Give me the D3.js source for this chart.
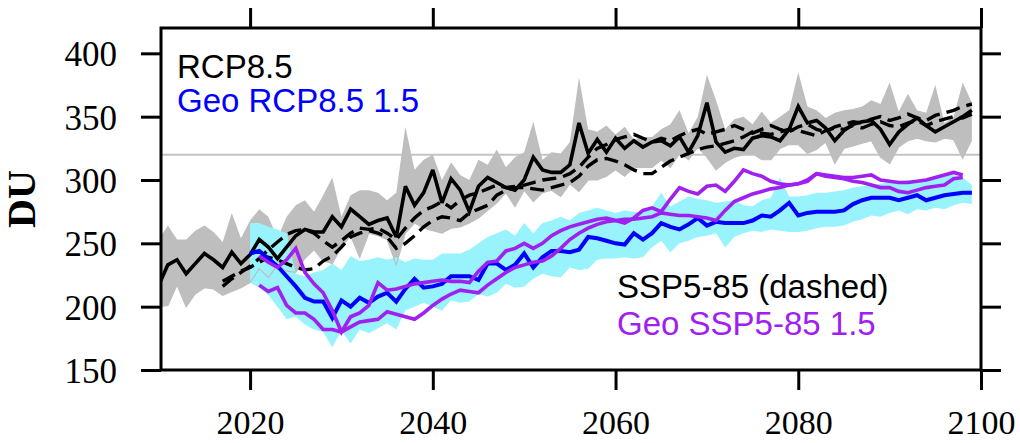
<!DOCTYPE html>
<html><head><meta charset="utf-8">
<script src="https://cdn.jsdelivr.net/npm/d3@7"></script>
<style>body{margin:0;background:#fff}svg{display:block;background:#fff}</style>
</head><body><svg id="c" width="1020" height="443"></svg>
<script>
// ---------------- data ----------------
const rcpStart = 2010;
const rcp85 = [217,233,237,226,234,242,237,231,243,234,
  241,253,247,238,247,256,261,259,259,271,
  263,277,271,265,268,270,255,295,280,290,
  308,282,301,292,275,295,302,298,294,292,
  300,318,308,306,306,312,345,321,332,322,
  333,325,331,326,330,331,327,334,322,335,
  361,330,322,325,324,333,335,334,331,340,
  358,345,347,341,331,339,344,346,347,340,
  328,338,344,349,343,338,342,346,350,355];
const rcpUpper = [253,264,253,253,260,264,259,251,274,254,
  268,277,271,254,271,280,284,275,288,302,
  271,288,292,292,290,284,290,342,308,316,
  320,300,314,304,300,316,312,324,310,318,
  322,346,316,322,321,330,381,340,338,343,
  336,342,332,334,334,340,344,355,337,350,
  383,363,340,348,350,344,354,345,350,355,
  385,358,355,349,353,355,356,358,363,360,
  377,354,368,355,353,375,345,350,377,361];
const rcpLower = [200,201,217,200,210,215,214,209,212,215,
  219,230,223,233,228,227,238,245,236,234,
  247,256,239,258,256,253,233,258,266,262,
  260,258,262,263,266,270,276,282,290,279,
  292,283,290,292,287,297,291,300,300,303,
  308,303,310,310,310,316,310,321,316,326,
  318,308,314,318,320,321,316,316,325,328,
  328,321,324,330,313,325,327,329,331,318,
  313,326,331,333,331,330,333,332,317,332];

const sspStart = 2017;
const ssp585a = [216,222,227,232,238,245,251,257,260,261,
  258,252,247,252,258,262,261,262,258,253,
  262,270,276,279,283,278,284,288,290,293,
  296,294,295,296,298,300,301,302,305,310,
  318,325,328,332,334,336,333,330,333,331,
  335,338,340,336,338,340,343,340,337,340,
  343,340,338,342,344,340,338,342,344,346,
  345,348,350,347,349,352,349,347,351,353,
  355,358,360];
const ssp585b = [220,224,228,231,235,239,237,234,231,229,
  230,236,240,247,255,258,260,258,255,246,
  250,256,263,268,271,270,268,274,277,280,
  288,292,294,294,293,292,294,296,298,303,
  311,316,317,315,312,308,305,305,310,315,
  318,321,324,326,327,329,331,334,338,337,
  336,338,340,339,337,335,339,341,340,343,
  341,344,346,343,342,345,347,343,346,348,
  350,349,352];

const geoStart = 2020;
const geoRcp = [242,244,238,232,224,216,207,204,204,191,
  205,200,207,203,208,211,204,214,222,215,
  216,218,224,224,224,221,234,234,229,233,
  242,231,239,244,244,243,245,255,254,252,
  250,249,258,253,258,266,263,261,265,270,
  264,267,266,266,266,268,272,271,276,282,
  272,274,275,275,275,276,281,284,286,286,
  286,284,286,288,284,286,288,289,290,290];
const geoUpper = [266,266,263,261,258,226,224,227,229,234,
  229,240,236,237,239,237,239,235,238,237,
  237,242,242,242,245,250,255,258,261,256,
  266,258,266,268,271,268,274,276,278,276,
  274,276,275,274,279,290,279,283,287,285,
  284,282,283,284,280,279,284,286,302,287,
  287,288,290,290,291,292,294,295,296,297,
  298,299,300,300,300,302,303,304,302,296];
const geoLower = [219,215,209,200,190,192,186,182,180,168,
  181,171,182,179,183,187,182,197,200,203,
  200,197,205,203,204,210,208,211,218,215,
  216,222,226,224,223,231,229,230,237,238,
  238,239,238,239,247,252,243,250,252,255,
  256,258,247,255,258,260,259,261,260,259,
  259,260,262,263,263,264,267,269,272,271,
  274,276,273,277,276,278,277,280,282,281];

const geoSspStart = 2021;
const geoSspA = [240,235,231,237,246,227,218,211,197,180,
  192,195,201,219,213,214,216,218,219,220,
  221,220,220,219,228,235,236,244,246,250,
  246,250,256,260,263,265,267,269,270,268,
  266,270,276,278,275,285,294,291,289,295,
  296,291,299,308,305,303,299,297,296,297,
  299,305,304,303,302,302,303,304,300,299,
  298,298,299,300,302,304,306,304];
const geoSspB = [217,212,215,201,195,195,190,182,182,180,
  184,188,189,190,196,194,192,190,195,201,
  206,210,213,212,211,217,222,227,231,233,
  235,236,240,246,253,258,262,265,267,268,
  269,269,270,271,274,273,272,272,271,270,
  268,276,283,286,289,291,293,294,296,297,
  300,305,303,302,301,299,298,296,294,294,
  291,290,292,294,295,296,301,302];

const refLevel = 320;
const xTicks = [2020, 2040, 2060, 2080, 2100];
const yTicks = [150, 200, 250, 300, 350, 400];

// ---------------- chart ----------------
const svg = d3.select('#c');
const L = 161, R = 981, T = 28, B = 370;
const x = d3.scaleLinear().domain([2010.25, 2100]).range([L, R]);
const y = d3.scaleLinear().domain([150, 420]).range([B, T]);

svg.append('defs').append('clipPath').attr('id', 'clip')
  .append('rect').attr('x', L).attr('y', T).attr('width', R - L).attr('height', B - T);
const plot = svg.append('g').attr('clip-path', 'url(#clip)');

const series = (start, vals) => vals.map((v, i) => ({year: start + i, v}));
const band = (start, lo, hi) => lo.map((l, i) => ({year: start + i, lo: l, hi: hi[i]}));
const area = d3.area().x(d => x(d.year)).y0(d => y(d.lo)).y1(d => y(d.hi));
const line = d3.line().x(d => x(d.year)).y(d => y(d.v));

// reference line
plot.append('line').attr('x1', L).attr('x2', R).attr('y1', y(refLevel)).attr('y2', y(refLevel))
  .attr('stroke', '#c4c4c4').attr('stroke-width', 2);

// bands
plot.append('path').datum(band(rcpStart, rcpLower, rcpUpper)).attr('d', area).attr('fill', '#bebebe');
plot.append('path').datum(band(geoStart, geoLower, geoUpper)).attr('d', area).attr('fill', '#98f3fc');
plot.append('path').datum(series(rcpStart, rcpLower)).attr('d', line)
  .attr('fill', 'none').attr('stroke', '#bebebe').attr('stroke-width', 1.2);

// lines
const drawLine = (start, vals, color, w, dash) => {
  const p = plot.append('path').datum(series(start, vals)).attr('d', line)
    .attr('fill', 'none').attr('stroke', color).attr('stroke-width', w)
    .attr('stroke-linejoin', 'miter').attr('stroke-miterlimit', 3);
  if (dash) p.attr('stroke-dasharray', dash);
};
drawLine(rcpStart, rcp85, '#000', 3.6);
drawLine(sspStart, ssp585a, '#000', 3.4, '14,7');
drawLine(sspStart, ssp585b, '#000', 3.4, '14,7');
drawLine(geoStart, geoRcp, '#0000ff', 4);
drawLine(geoSspStart, geoSspA, '#a020f0', 3.6);
drawLine(geoSspStart, geoSspB, '#a020f0', 3.6);

// axes
const styleAxis = g => {
  g.select('.domain').remove();
  g.selectAll('.tick line').attr('stroke', '#000').attr('stroke-width', 3);
  g.selectAll('.tick text').attr('fill', '#000')
    .style('font-family', '"Liberation Serif", "Times New Roman", serif').style('font-size', '34px');
};
svg.append('g').attr('transform', `translate(0,${B})`)
  .call(d3.axisBottom(x).tickValues(xTicks).tickSize(20).tickSizeOuter(0).tickPadding(20).tickFormat(d3.format('d')))
  .call(styleAxis);
svg.append('g').attr('transform', `translate(0,${T})`)
  .call(d3.axisTop(x).tickValues(xTicks).tickSize(20).tickSizeOuter(0).tickFormat(''))
  .call(styleAxis);
svg.append('g').attr('transform', `translate(${L},0)`)
  .call(d3.axisLeft(y).tickValues(yTicks).tickSize(20).tickSizeOuter(0).tickPadding(24).tickFormat(d3.format('d')))
  .call(styleAxis)
  .call(g => g.selectAll('.tick text').style('font-size', '35px').attr('dy', '0.36em'));
svg.append('g').attr('transform', `translate(${R},0)`)
  .call(d3.axisRight(y).tickValues(yTicks).tickSize(20).tickSizeOuter(0).tickFormat(''))
  .call(styleAxis);

// frame
svg.append('rect').attr('x', L).attr('y', T).attr('width', R - L).attr('height', B - T)
  .attr('fill', 'none').attr('stroke', '#000').attr('stroke-width', 3);

// y label
svg.append('text').attr('transform', `translate(35,${(T + B) / 2}) rotate(-90)`)
  .attr('text-anchor', 'middle').attr('fill', '#000')
  .style('font-family', '"Liberation Serif", "Times New Roman", serif')
  .style('font-size', '40px').style('font-weight', 'bold').text('DU');

// legend texts
const legend = [
  {t: 'RCP8.5', c: '#000', x: 177, y: 78},
  {t: 'Geo RCP8.5 1.5', c: '#0000ff', x: 177, y: 112},
  {t: 'SSP5-85 (dashed)', c: '#000', x: 617, y: 298},
  {t: 'Geo SSP5-85 1.5', c: '#a020f0', x: 617, y: 335}
];
svg.selectAll('text.leg').data(legend).enter().append('text').attr('class', 'leg')
  .attr('x', d => d.x).attr('y', d => d.y).attr('fill', d => d.c)
  .style('font-family', '"Liberation Sans", Arial, sans-serif').style('font-size', '33px')
  .text(d => d.t);
</script></body></html>
